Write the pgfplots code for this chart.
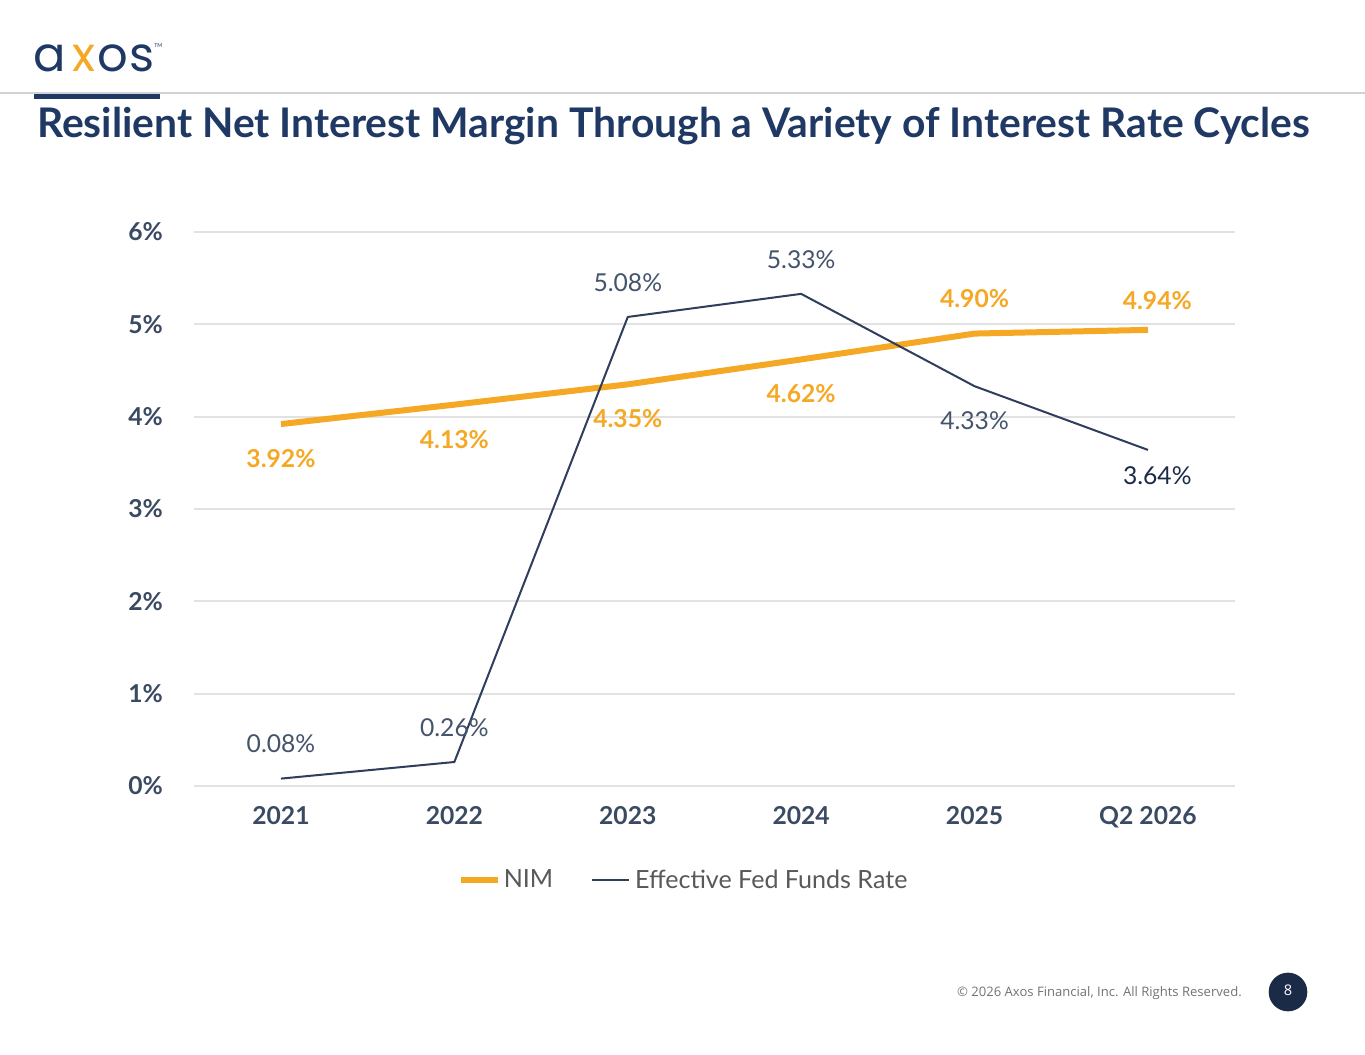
\documentclass[border=0pt]{standalone}
\usepackage{fontspec}
\setmainfont{Lato}
\newfontfamily\footfont{Open Sans}
\newfontfamily\logofont{Poppins}
\usepackage{pgfplots}
\pgfplotsset{compat=1.18}
\definecolor{nim}{HTML}{F5A823}
\definecolor{fed}{HTML}{2F3E5C}
\definecolor{fedlab}{HTML}{44546A}
\definecolor{navy}{HTML}{1F3864}
\definecolor{darknavy}{HTML}{1B2A47}
\definecolor{ticklab}{HTML}{3B4A63}
\definecolor{gridc}{HTML}{E2E2E2}
\definecolor{legtext}{HTML}{595959}
\pgfplotsset{
  lab/.style 2 args={forget plot, draw=none, mark=none, point meta=explicit symbolic,
    nodes near coords,
    nodes near coords style={anchor=center, inner sep=0pt, text=#1, #2}},
}
\begin{document}
\begin{tikzpicture}
\begin{scope}[x=0.75pt,y=-0.75pt]
\path[use as bounding box, fill=white] (0,0) rectangle (1365,1055);
\draw[gray!35, line width=0.9pt] (0,93) -- (1365,93);
\fill[navy] (34,94) rectangle (160,99);
\node[anchor=west, font=\fontsize{30.6}{36}\selectfont\bfseries, text=navy, inner sep=0pt] at (37,126) {Resilient Net Interest Margin Through a Variety of Interest Rate Cycles};
\begin{scope}[every node/.style={anchor=base, inner sep=0pt, font=\logofont\fontsize{36}{38}\selectfont}]
\node[text=navy] at (49.5,72) {a};
\node[text=nim] at (83.5,72) {x};
\node[text=navy] at (112.5,72) {o};
\node[text=navy] at (142.5,72) {s};
\end{scope}
\node[anchor=west, inner sep=0pt, font=\fontsize{4}{5}\selectfont, text=navy] at (154,46) {TM};
\node[anchor=east, inner sep=0pt, font=\footfont\fontsize{9.8}{11}\selectfont, text=gray!90!black] at (1242,993) {\textcopyright{} 2026 Axos Financial, Inc. All Rights Reserved.};
\fill[darknavy] (1288,992) circle (14.5pt);
\node[text=white, inner sep=0pt, font=\footfont\fontsize{11}{12}\selectfont] at (1288,990) {8};
\end{scope}
\begin{axis}[
  at={(145.7pt,-589.5pt)}, anchor=south west,
  scale only axis, width=780.3pt, height=415.5pt,
  xmin=-0.5, xmax=5.5, ymin=0, ymax=6,
  axis line style={draw=none},
  ymajorgrids, grid style={gridc, line width=1.3pt},
  major tick length=0pt,
  xtick={0,1,2,3,4,5},
  xticklabels={2021,2022,2023,2024,2025,Q2 2026},
  ytick={0,1,2,3,4,5,6},
  yticklabel={\pgfmathprintnumber{\tick}\%},
  /pgf/number format/assume math mode=true,
  tick label style={font=\fontsize{18.5}{20}\selectfont\bfseries, text=ticklab},
  yticklabel style={xshift=-20pt},
  xticklabel style={yshift=-12pt},
  clip=false,
  legend style={at={(0.4707,-0.1697)}, anchor=center, draw=none, fill=none,
    legend columns=2, font=\fontsize{18.8}{20}\selectfont, text=legtext,
    /tikz/every even column/.append style={column sep=26pt}},
  legend cell align=left,
  legend image code/.code={\draw[#1] (0cm,0cm) -- (0.98cm,0cm);},
]
\addplot[nim, line width=4.5pt, line join=round] coordinates {(0,3.92)(1,4.13)(2,4.35)(3,4.62)(4,4.90)(5,4.94)};
\addlegendentry{NIM}
\addplot[fed, line width=1.5pt, line join=round] coordinates {(0,0.08)(1,0.26)(2,5.08)(3,5.33)(4,4.33)(5,3.64)};
\addlegendentry{\hspace{2pt}Effective Fed Funds Rate}
% NIM labels
\addplot[lab={nim}{font=\fontsize{18.5}{20}\selectfont\bfseries, yshift=-26pt}] coordinates {(0,3.92) [3.92\%] (1,4.13) [4.13\%] (2,4.35) [4.35\%] (3,4.62) [4.62\%]};
\addplot[lab={nim}{font=\fontsize{18.5}{20}\selectfont\bfseries, yshift=26pt}] coordinates {(4,4.90) [4.90\%]};
\addplot[lab={nim}{font=\fontsize{18.5}{20}\selectfont\bfseries, yshift=22pt, xshift=7pt}] coordinates {(5,4.94) [4.94\%]};
% Fed labels
\addplot[lab={fedlab}{font=\fontsize{18.5}{20}\selectfont, yshift=26pt}] coordinates {(0,0.08) [0.08\%] (1,0.26) [0.26\%] (2,5.08) [5.08\%] (3,5.33) [5.33\%]};
\addplot[lab={fedlab}{font=\fontsize{18.5}{20}\selectfont, yshift=-26pt}] coordinates {(4,4.33) [4.33\%]};
\addplot[lab={darknavy}{font=\fontsize{18.5}{20}\selectfont, yshift=-19pt, xshift=7pt}] coordinates {(5,3.64) [3.64\%]};
\end{axis}
\end{tikzpicture}
\end{document}
